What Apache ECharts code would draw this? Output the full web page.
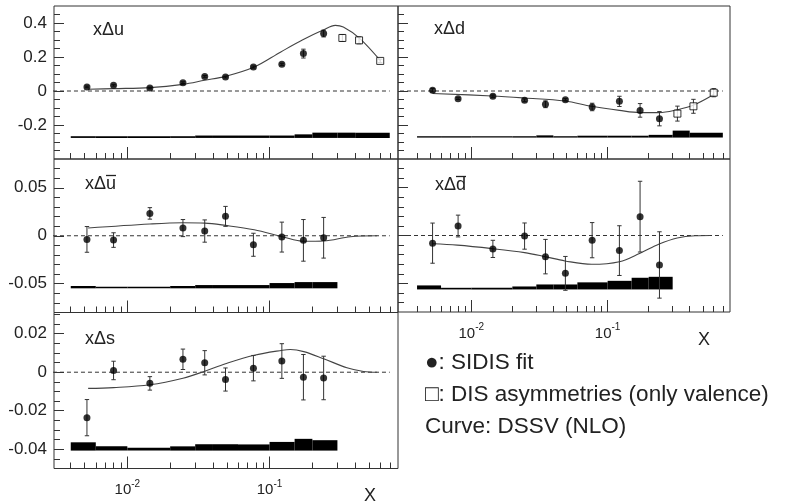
<!DOCTYPE html>
<html><head><meta charset="utf-8">
<script src="https://cdn.jsdelivr.net/npm/echarts@6/dist/echarts.min.js"></script>
<style>html,body{margin:0;padding:0;background:#fff}#c{width:792px;height:503px}</style>
</head><body><div id="c"></div>
<script>
const FONT = '"Liberation Sans", Arial, Helvetica, sans-serif';

// ---------- data ----------
const xSidis = [0.0052, 0.008, 0.0144, 0.0246, 0.035, 0.049, 0.077, 0.122, 0.173, 0.24];
const xDis = [0.325, 0.426, 0.6];
const bandEdges = [0.004, 0.006, 0.01, 0.02, 0.03, 0.04, 0.06, 0.1, 0.15, 0.2, 0.3, 0.4, 0.7];
const zeroX = [0.003, 0.7];

// x·Δu
const uVal = [0.024, 0.034, 0.018, 0.049, 0.086, 0.082, 0.141, 0.157, 0.22, 0.338];
const uErr = [0.005, 0.005, 0.005, 0.005, 0.005, 0.005, 0.006, 0.006, 0.026, 0.02];
const uDisVal = [0.312, 0.298, 0.177];
const uDisErr = [0.02, 0.02, 0.01];
const uCurveX = [0.0053, 0.008, 0.0144, 0.0246, 0.035, 0.049, 0.078, 0.12, 0.17, 0.24, 0.29, 0.33, 0.43, 0.6];
const uCurveY = [0.010, 0.014, 0.020, 0.039, 0.063, 0.086, 0.141, 0.23, 0.30, 0.36, 0.386, 0.376, 0.31, 0.18];
const uBandTop = [-0.266, -0.266, -0.266, -0.266, -0.262, -0.262, -0.262, -0.262, -0.255, -0.245, -0.245, -0.245];
const uBandBase = -0.276;

// x·Δd
const dVal = [0.004, -0.045, -0.031, -0.055, -0.078, -0.051, -0.094, -0.061, -0.114, -0.163];
const dErr = [0.01, 0.005, 0.008, 0.008, 0.02, 0.006, 0.022, 0.03, 0.04, 0.042];
const dDisVal = [-0.133, -0.09, -0.01];
const dDisErr = [0.044, 0.041, 0.024];
const dCurveX = [0.0052, 0.0142, 0.0246, 0.0487, 0.0764, 0.122, 0.173, 0.239, 0.324, 0.425, 0.6];
const dCurveY = [-0.015, -0.029, -0.041, -0.059, -0.09, -0.114, -0.127, -0.127, -0.11, -0.084, -0.021];
const dBandTop = [-0.266, -0.266, -0.266, -0.266, -0.261, -0.266, -0.263, -0.263, -0.263, -0.258, -0.233, -0.245];
const dBandBase = -0.274;

// x·Δū
const ubVal = [-0.0038, -0.0045, 0.0233, 0.008, 0.0049, 0.0202, -0.0094, -0.0014, -0.0048, -0.0021];
const ubErr = [0.0134, 0.0076, 0.006, 0.0089, 0.0116, 0.0104, 0.012, 0.0156, 0.0217, 0.0212];
const ubCurveX = [0.0053, 0.0144, 0.0246, 0.035, 0.049, 0.078, 0.123, 0.174, 0.24, 0.37, 0.57];
const ubCurveY = [0.008, 0.0122, 0.0135, 0.0132, 0.0108, 0.0062, -0.001, -0.0058, -0.0055, -0.001, 0.0];
const ubBandTop = [-0.0524, -0.0531, -0.0531, -0.0524, -0.0514, -0.0514, -0.0514, -0.0493, -0.0483, -0.0483];
const ubBandBase = -0.0548;

// x·Δd̄
const dbVal = [-0.008, 0.0099, -0.014, -0.0006, -0.0221, -0.0396, -0.0049, -0.0158, 0.0197, -0.0308];
const dbErr = [0.021, 0.0114, 0.009, 0.0137, 0.018, 0.0177, 0.0184, 0.026, 0.037, 0.0347];
const dbCurveX = [0.0052, 0.0079, 0.0142, 0.0246, 0.0348, 0.0487, 0.0764, 0.122, 0.173, 0.239, 0.324, 0.438, 0.566];
const dbCurveY = [-0.0087, -0.0101, -0.0137, -0.0179, -0.0221, -0.0266, -0.0301, -0.0274, -0.0185, -0.009, -0.0027, -0.0003, 0];
const dbBandTop = [-0.0522, -0.0547, -0.0547, -0.0533, -0.0512, -0.0512, -0.049, -0.0474, -0.0442, -0.0432];
const dbBandBase = -0.0564;

// x·Δs
const sVal = [-0.0236, 0.0009, -0.0058, 0.0067, 0.0049, -0.0038, 0.0021, 0.0058, -0.0026, -0.003];
const sErr = [0.0094, 0.0048, 0.0035, 0.0053, 0.0063, 0.006, 0.0066, 0.009, 0.0118, 0.0113];
const sCurveX = [0.0053, 0.008, 0.0144, 0.0246, 0.035, 0.049, 0.078, 0.123, 0.14, 0.174, 0.24, 0.35, 0.458, 0.57];
const sCurveY = [-0.0084, -0.008, -0.0065, -0.0031, 0.0005, 0.0044, 0.0088, 0.0114, 0.0118, 0.0107, 0.007, 0.0023, 0.0004, 0];
const sBandTop = [-0.0364, -0.0385, -0.0392, -0.0385, -0.0374, -0.0374, -0.0375, -0.0362, -0.0346, -0.0353];
const sBandBase = -0.0407;

// tick labels
const xTickLabels = [0.01, 0.1];
const yTicksU = [-0.2, 0, 0.2, 0.4];
const yTicksUbar = [-0.05, 0, 0.05];
const yTicksS = [-0.04, -0.02, 0, 0.02];

// ---------- helpers ----------
function seq(a, b, step) { const r = []; for (let v = a; v <= b + step / 2; v += step) r.push(Math.round(v * 1e6) / 1e6); return r; }
const xMinorTicks = [].concat(seq(0.004, 0.009, 0.001), seq(0.02, 0.09, 0.01), seq(0.2, 0.7, 0.1));
const pair = (a, b) => a.map((v, i) => [v, b[i]]);
const triple = (a, b, c) => a.map((v, i) => [v, b[i], c[i]]);
const band = (tops, base) => tops.map((t, i) => [bandEdges[i], bandEdges[i + 1], base, t]);

const panels = [
  { grid: { left: 54, top: 6, width: 344, height: 153 }, xr: [0.00305, 0.80], yr: [-0.4, 0.5], yMajor: yTicksU, yMinor: seq(-0.35, 0.45, 0.05), yLab: true, xLab: false,
    val: uVal, err: uErr, disVal: uDisVal, disErr: uDisErr, cx: uCurveX, cy: uCurveY, bt: uBandTop, bb: uBandBase },
  { grid: { left: 398, top: 6, width: 332, height: 153 }, xr: [0.0029, 0.79], yr: [-0.4, 0.5], yMajor: yTicksU, yMinor: seq(-0.35, 0.45, 0.05), yLab: false, xLab: false,
    val: dVal, err: dErr, disVal: dDisVal, disErr: dDisErr, cx: dCurveX, cy: dCurveY, bt: dBandTop, bb: dBandBase },
  { grid: { left: 54, top: 159, width: 344, height: 153.5 }, xr: [0.00305, 0.80], yr: [-0.08, 0.08], yMajor: yTicksUbar, yMinor: seq(-0.07, 0.07, 0.01), yLab: true, xLab: false,
    val: ubVal, err: ubErr, cx: ubCurveX, cy: ubCurveY, bt: ubBandTop, bb: ubBandBase },
  { grid: { left: 398, top: 159, width: 332, height: 153 }, xr: [0.0029, 0.79], yr: [-0.08, 0.08], yMajor: yTicksUbar, yMinor: seq(-0.07, 0.07, 0.01), yLab: false, xLab: true,
    val: dbVal, err: dbErr, cx: dbCurveX, cy: dbCurveY, bt: dbBandTop, bb: dbBandBase },
  { grid: { left: 54, top: 312.5, width: 344, height: 156 }, xr: [0.00305, 0.80], yr: [-0.05, 0.031], yMajor: yTicksS, yMinor: seq(-0.045, 0.03, 0.005), yLab: true, xLab: true,
    val: sVal, err: sErr, cx: sCurveX, cy: sCurveY, bt: sBandTop, bb: sBandBase }
];

const TICK = '#333';
const grids = [], xAxes = [], yAxes = [], series = [];
const N = panels.length;
const noLine = { show: false, onZero: false };
panels.forEach((p, i) => {
  grids[i] = Object.assign({ show: true, borderColor: '#333', borderWidth: 1, backgroundColor: 'transparent' }, p.grid);
  grids[N + i] = Object.assign({ show: false }, p.grid);
  xAxes[i] = {
    type: 'log', logBase: 10, gridIndex: i, min: p.xr[0], max: p.xr[1], position: 'bottom',
    axisLine: noLine, splitLine: { show: false },
    axisTick: { show: true, inside: true, length: 12, customValues: [0.01, 0.1], lineStyle: { color: TICK } },
    axisLabel: p.xLab ? {
      show: true, customValues: xTickLabels, margin: 8,
      formatter: v => '{b|10}{s|' + Math.round(Math.log10(v)) + '}',
      rich: {
        b: { fontSize: 15, fontFamily: FONT, color: '#222', padding: [6, 0, 0, 0] },
        s: { fontSize: 10, fontFamily: FONT, color: '#222', padding: [0, 0, 6, 0] }
      }
    } : { show: false }
  };
  xAxes[N + i] = {
    type: 'log', logBase: 10, gridIndex: N + i, min: p.xr[0], max: p.xr[1], position: 'bottom',
    axisLine: noLine, splitLine: { show: false }, axisLabel: { show: false },
    axisTick: { show: true, inside: true, length: 6, customValues: xMinorTicks, lineStyle: { color: TICK } }
  };
  yAxes[i] = {
    type: 'value', gridIndex: i, min: p.yr[0], max: p.yr[1], position: 'left',
    axisLine: noLine, splitLine: { show: false },
    axisTick: { show: true, inside: true, length: 10, customValues: p.yMajor, lineStyle: { color: TICK } },
    axisLabel: p.yLab ? { show: true, customValues: p.yMajor, margin: 7, fontSize: 17, fontFamily: FONT, color: '#222',
      formatter: v => (Math.abs(v) < 1e-9 ? '0' : String(v)) } : { show: false }
  };
  yAxes[N + i] = {
    type: 'value', gridIndex: N + i, min: p.yr[0], max: p.yr[1], position: 'left',
    axisLine: noLine, splitLine: { show: false }, axisLabel: { show: false },
    axisTick: { show: true, inside: true, length: 6, customValues: p.yMinor, lineStyle: { color: TICK } }
  };

  // systematic band
  series.push({
    type: 'custom', xAxisIndex: i, yAxisIndex: i, z: 1, silent: true,
    encode: { x: [0, 1], y: [2, 3] },
    data: band(p.bt, p.bb),
    renderItem: (params, api) => {
      const a = api.coord([api.value(0), api.value(3)]);
      const b = api.coord([api.value(1), api.value(2)]);
      return { type: 'rect', shape: { x: a[0], y: a[1], width: b[0] - a[0], height: b[1] - a[1] }, style: { fill: '#000' } };
    }
  });
  // zero line
  series.push({
    type: 'line', xAxisIndex: i, yAxisIndex: i, z: 2, symbol: 'none', silent: true,
    data: zeroX.map(x => [x, 0]),
    lineStyle: { color: '#333', width: 1, type: [4, 3] }
  });
  // curve
  series.push({
    type: 'line', xAxisIndex: i, yAxisIndex: i, z: 3, symbol: 'none', smooth: 0.35, silent: true,
    data: pair(p.cx, p.cy),
    lineStyle: { color: '#444', width: 1.1 }
  });
  const errSeries = (data) => ({
    type: 'custom', xAxisIndex: i, yAxisIndex: i, z: 4, silent: true, data,
    renderItem: (params, api) => {
      const x = api.value(0), y = api.value(1), e = api.value(2);
      const t = api.coord([x, y + e]), b = api.coord([x, y - e]);
      const w = 2.2, st = { stroke: '#333', lineWidth: 1 };
      return { type: 'group', children: [
        { type: 'line', shape: { x1: t[0], y1: t[1], x2: b[0], y2: b[1] }, style: st },
        { type: 'line', shape: { x1: t[0] - w, y1: t[1], x2: t[0] + w, y2: t[1] }, style: st },
        { type: 'line', shape: { x1: b[0] - w, y1: b[1], x2: b[0] + w, y2: b[1] }, style: st }
      ] };
    }
  });
  series.push(errSeries(triple(xSidis, p.val, p.err)));
  series.push({
    type: 'scatter', xAxisIndex: i, yAxisIndex: i, z: 5, silent: true,
    symbol: 'circle', symbolSize: 7, itemStyle: { color: '#000' },
    data: pair(xSidis, p.val)
  });
  if (p.disVal) {
    series.push(errSeries(triple(xDis, p.disVal, p.disErr)));
    series.push({
      type: 'scatter', xAxisIndex: i, yAxisIndex: i, z: 5, silent: true,
      symbol: 'rect', symbolSize: 7, itemStyle: { color: '#fff', borderColor: '#000', borderWidth: 1 },
      data: pair(xDis, p.disVal)
    });
  }
});

const txt = (x, y, s, size, extra) => ({ type: 'text', x, y, silent: true, z: 10,
  style: Object.assign({ text: s, fontSize: size, fontFamily: FONT, fill: '#222', verticalAlign: 'middle' }, extra || {}) });
const oline = (x1, x2, y) => ({ type: 'line', silent: true, z: 10, shape: { x1, y1: y, x2, y2: y }, style: { stroke: '#222', lineWidth: 1.3 } });

const graphic = [
  txt(93, 30, 'xΔu', 18),
  txt(434, 29, 'xΔd', 18),
  txt(85, 184, 'xΔu', 18), oline(106, 116, 175.5),
  txt(435, 185, 'xΔd', 18), oline(456, 466, 176.5),
  txt(85, 339, 'xΔs', 18),
  txt(364, 496, 'X', 18),
  txt(698, 340, 'X', 18),
  txt(425, 363, '●: SIDIS fit', 22.5),
  txt(425, 395, '□: DIS asymmetries (only valence)', 22.5),
  txt(425, 427, 'Curve: DSSV (NLO)', 22.5)
];

const chart = echarts.init(document.getElementById('c'), null, { renderer: 'canvas' });
chart.setOption({
  animation: false,
  backgroundColor: '#fff',
  grid: grids, xAxis: xAxes, yAxis: yAxes, series, graphic
});
</script></body></html>
